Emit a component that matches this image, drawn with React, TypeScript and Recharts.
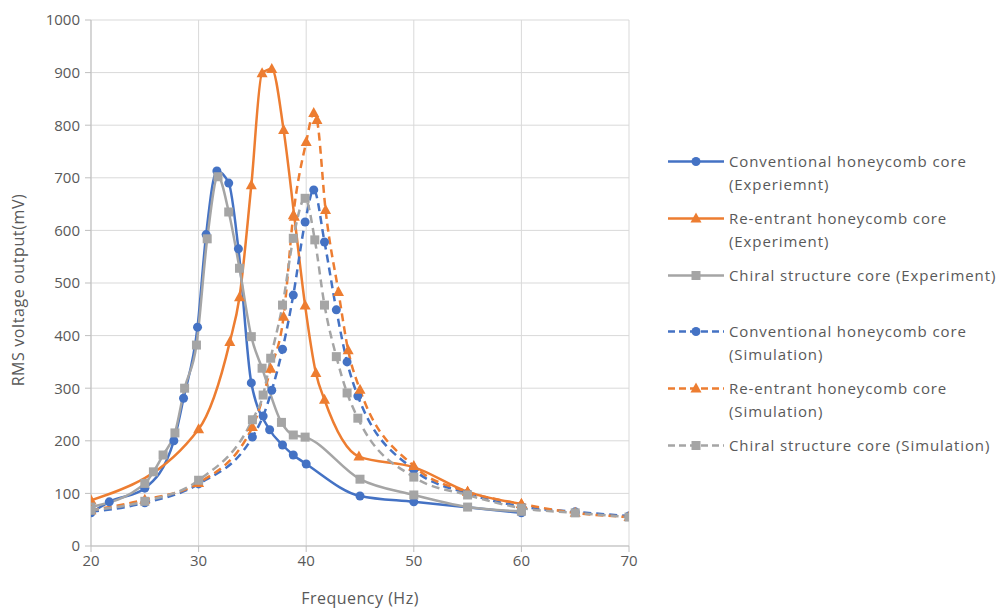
import React from "react";
import { LineChart, Line, XAxis, YAxis, CartesianGrid, Legend, Label } from "recharts";

// Excel-like look: Calibri-ish text, grey ticks, light grid
const FONT = "'Open Sans', 'DejaVu Sans', sans-serif";
const TEXT = "#595959";
const BLUE = "#4472C4";
const ORANGE = "#ED7D31";
const GRAY = "#A5A5A5";

const xTicks = [20, 30, 40, 50, 60, 70];
const yTicks = [0, 100, 200, 300, 400, 500, 600, 700, 800, 900, 1000];

// [frequency Hz, RMS mV]
const convExp: [number, number][] = [
  [20, 63], [21.7, 84], [25, 110], [27.7, 200], [28.6, 281], [29.9, 416], [30.7, 592],
  [31.7, 713], [32.8, 690], [33.7, 565], [34.9, 310], [36.6, 221], [37.8, 192],
  [38.8, 173], [40, 156], [45, 95], [50, 84], [60, 63],
];
const reExp: [number, number][] = [
  [20, 87], [30, 222], [32.9, 388], [33.8, 473], [34.9, 686], [35.9, 899], [36.8, 907],
  [37.9, 791], [38.9, 626], [39.9, 457], [40.9, 329], [41.7, 278], [44.9, 170],
  [50, 150], [55, 103], [60, 80],
];
const chiralExp: [number, number][] = [
  [20, 74], [25, 119], [25.8, 141], [26.7, 173], [27.8, 215], [28.7, 300], [29.8, 382],
  [30.8, 584], [31.8, 702], [32.8, 635], [33.8, 528], [34.9, 398], [35.9, 338],
  [37.7, 235], [38.8, 211], [39.9, 207], [45, 127], [50, 97], [55, 74], [60, 66],
];
const convSim: [number, number][] = [
  [20, 65], [25, 82], [30, 118], [35, 207], [36, 247], [36.8, 296], [37.8, 374],
  [38.8, 477], [39.9, 616], [40.7, 677], [41.7, 578], [42.8, 449], [43.8, 350],
  [44.8, 285], [50, 145], [55, 100], [60, 75], [65, 65], [70, 57],
];
const reSim: [number, number][] = [
  [20, 68], [25, 88], [30, 120], [35, 226], [36.7, 337], [37.9, 436], [38.8, 629],
  [40, 768], [40.7, 823], [41, 810], [41.8, 639], [43, 483], [43.9, 372], [45, 297],
  [50, 152], [55, 103], [60, 80], [65, 63], [70, 55],
];
const chiralSim: [number, number][] = [
  [20, 68], [25, 85], [30, 125], [35, 240], [36, 287], [36.7, 357], [37.8, 458],
  [38.8, 585], [39.9, 661], [40.8, 582], [41.7, 458], [42.8, 360], [43.8, 291],
  [44.8, 243], [50, 131], [55, 97], [60, 72], [65, 63], [70, 55],
];

type Shape = "circle" | "triangle" | "square";

const SERIES: { name: string; color: string; dashed: boolean; shape: Shape; pts: [number, number][] }[] = [
  { name: "Conventional honeycomb core\n(Experiemnt)", color: BLUE, dashed: false, shape: "circle", pts: convExp },
  { name: "Re-entrant honeycomb core\n(Experiment)", color: ORANGE, dashed: false, shape: "triangle", pts: reExp },
  { name: "Chiral structure core (Experiment)", color: GRAY, dashed: false, shape: "square", pts: chiralExp },
  { name: "Conventional honeycomb core\n(Simulation)", color: BLUE, dashed: true, shape: "circle", pts: convSim },
  { name: "Re-entrant honeycomb core\n(Simulation)", color: ORANGE, dashed: true, shape: "triangle", pts: reSim },
  { name: "Chiral structure core (Simulation)", color: GRAY, dashed: true, shape: "square", pts: chiralSim },
];

const DASH = "8 5";

function Marker({ cx, cy, shape, color }: { cx?: number; cy?: number; shape: Shape; color: string }) {
  if (cx == null || cy == null) return null;
  if (shape === "circle") return <circle cx={cx} cy={cy} r={4.5} fill={color} />;
  if (shape === "triangle")
    return <polygon points={`${cx},${cy - 6} ${cx + 5.5},${cy + 4} ${cx - 5.5},${cy + 4}`} fill={color} />;
  return <rect x={cx - 4.5} y={cy - 4.5} width={9} height={9} fill={color} />;
}

function LegendBox() {
  return (
    <div style={{ fontFamily: FONT, fontSize: 15, color: TEXT, letterSpacing: 0.9 }}>
      {SERIES.map((s, i) => (
        <div key={i} style={{ display: "flex", alignItems: "flex-start", height: 56.8 }}>
          <svg width={56} height={23} style={{ flex: "none" }}>
            <line x1={0} y1={11.5} x2={56} y2={11.5} stroke={s.color} strokeWidth={2.5}
              strokeDasharray={s.dashed ? "7 4" : undefined} />
            <Marker cx={28} cy={11.5} shape={s.shape} color={s.color} />
          </svg>
          <div style={{ marginLeft: 5, lineHeight: "23px", whiteSpace: "pre-line" }}>{s.name}</div>
        </div>
      ))}
    </div>
  );
}

export default function App() {
  return (
    <div style={{ position: "absolute", left: 0, top: 0, background: "#fff" }}>
      <LineChart width={1005} height={614} margin={{ top: 20, right: 376, left: 11, bottom: 38 }}>
        <CartesianGrid stroke="#d9d9d9" strokeWidth={1} />
        <XAxis
          type="number"
          dataKey="x"
          domain={[20, 70]}
          ticks={xTicks}
          allowDataOverflow
          height={30}
          stroke="#bfbfbf"
          tickSize={6}
          tickMargin={3}
          tick={{ fill: TEXT, fontSize: 15, fontFamily: FONT }}
        >
          <Label
            content={({ viewBox }: any) => (
              <text x={viewBox.x + viewBox.width / 2} y={600} textAnchor="middle" dominantBaseline="middle"
                fill={TEXT} fontSize={16} letterSpacing={0.5} fontFamily={FONT}>
                Frequency (Hz)
              </text>
            )}
          />
        </XAxis>
        <YAxis
          type="number"
          domain={[0, 1000]}
          ticks={yTicks}
          width={80}
          stroke="#bfbfbf"
          tickSize={6}
          tickMargin={5}
          tick={{ fill: TEXT, fontSize: 15, fontFamily: FONT }}
        >
          <Label
            content={({ viewBox }: any) => {
              const cy = viewBox.y + viewBox.height / 2 + 7;
              return (
                <text x={20} y={cy} transform={`rotate(-90 20 ${cy})`} textAnchor="middle" dominantBaseline="middle"
                  fill={TEXT} fontSize={16} letterSpacing={0.6} fontFamily={FONT}>
                  RMS voltage output(mV)
                </text>
              );
            }}
          />
        </YAxis>
        <Legend
          layout="vertical"
          align="center"
          verticalAlign="middle"
          content={() => <LegendBox />}
          wrapperStyle={{ left: 668, top: 150, width: 337 }}
        />
        {SERIES.map((s, i) => (
          <Line
            key={i}
            name={s.name}
            data={s.pts.map(([x, y]) => ({ x, y }))}
            dataKey="y"
            type="monotone"
            stroke={s.color}
            strokeWidth={2.5}
            strokeDasharray={s.dashed ? DASH : undefined}
            dot={(p: any) => <Marker key={p.index} cx={p.cx} cy={p.cy} shape={s.shape} color={s.color} />}
            activeDot={false}
            isAnimationActive={false}
          />
        ))}
      </LineChart>
    </div>
  );
}
